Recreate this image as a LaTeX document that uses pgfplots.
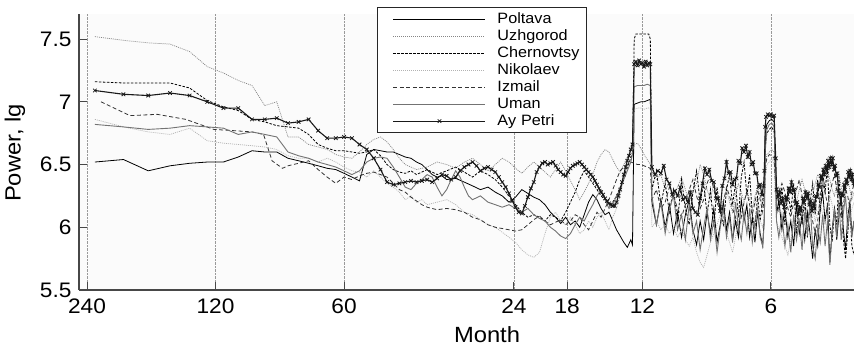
\documentclass[border=0pt]{standalone}
\usepackage{fontspec}
\setmainfont{Liberation Sans}[FakeStretch=1.08]
\usepackage{pgfplots}
\usepackage{pgfplotstable}
\pgfplotsset{compat=1.18}

% Spectral power (lg) against harmonic index k of a 1380-month record;
% the period in months is 1380/k, shown on the x axis.
\pgfplotstableread[row sep=\\]{
k v\\
6 6.52\\ 7 6.54\\ 8 6.45\\ 9 6.49\\ 10 6.51\\ 11 6.52\\ 12 6.52\\ 13 6.56\\ 14 6.61\\ 15 6.60\\
16 6.60\\ 17 6.55\\ 18 6.53\\ 19 6.51\\ 20 6.49\\ 21 6.47\\ 22 6.46\\ 23 6.43\\ 24 6.40\\ 25 6.37\\
26 6.58\\ 27 6.62\\ 28 6.61\\ 29 6.60\\ 30 6.60\\ 31 6.58\\ 32 6.56\\ 33 6.55\\ 34 6.52\\ 35 6.50\\
36 6.46\\ 37 6.42\\ 38 6.40\\ 39 6.41\\ 40 6.38\\ 42 6.39\\ 44 6.36\\ 46 6.33\\ 48 6.30\\ 50 6.32\\
52 6.28\\ 54 6.25\\ 56 6.20\\ 58 6.24\\ 60 6.30\\ 62 6.27\\ 64 6.24\\ 66 6.22\\ 68 6.18\\ 70 6.12\\
72 6.08\\ 74 6.03\\ 76 6.08\\ 78 6.02\\ 80 6.05\\ 82 6.00\\ 84 6.10\\ 86 6.20\\ 88 6.26\\ 90 6.22\\
92 6.15\\ 94 6.10\\ 96 6.12\\ 98 6.05\\ 100 5.98\\ 102 5.93\\ 104 5.88\\ 106 5.84\\ 108 5.90\\ 109 5.86\\
110 6.98\\ 112 6.99\\ 114 7.00\\ 116 7.00\\ 118 7.01\\ 120 7.02\\ 121 6.20\\ 124 6.02\\ 127 6.22\\ 130 6.00\\
133 6.18\\ 136 5.95\\ 139 6.12\\ 142 5.92\\ 145 6.10\\ 148 6.22\\ 151 5.98\\ 154 5.86\\ 157 6.05\\ 160 5.90\\
163 6.12\\ 166 5.95\\ 169 6.15\\ 172 5.88\\ 175 6.02\\ 178 6.20\\ 181 5.98\\ 184 6.12\\ 187 5.90\\ 190 6.05\\
193 5.92\\ 196 6.22\\ 199 6.05\\ 202 6.18\\ 205 5.92\\ 208 6.08\\ 211 5.88\\ 214 6.12\\ 217 5.95\\ 220 5.85\\
222 6.10\\ 223 6.75\\ 225 6.82\\ 228 6.85\\ 231 6.86\\ 234 6.84\\ 236 6.40\\ 237 6.10\\ 240 6.22\\ 244 5.98\\
248 6.15\\ 252 5.92\\ 256 6.05\\ 260 5.85\\ 264 6.18\\ 268 5.95\\ 272 6.10\\ 276 5.90\\ 280 6.12\\ 284 5.95\\
288 5.75\\ 292 5.98\\ 296 5.85\\ 300 6.15\\ 304 6.28\\ 308 6.05\\ 312 6.18\\ 316 5.72\\ 320 5.98\\ 324 6.15\\
328 5.90\\ 332 6.10\\ 336 6.25\\ 340 5.98\\ 344 5.82\\ 348 6.08\\ 352 6.20\\ 356 5.95\\ 360 6.05\\
}\poltava

\pgfplotstableread[row sep=\\]{
k v\\
6 7.52\\ 7 7.49\\ 8 7.47\\ 9 7.46\\ 10 7.40\\ 11 7.28\\ 12 7.23\\ 13 7.17\\ 14 7.13\\ 15 6.97\\
16 7.00\\ 17 6.72\\ 18 6.72\\ 19 6.66\\ 20 6.64\\ 21 6.62\\ 22 6.58\\ 23 6.56\\ 24 6.55\\ 25 6.60\\
26 6.66\\ 27 6.70\\ 28 6.72\\ 29 6.68\\ 30 6.62\\ 31 6.55\\ 32 6.50\\ 34 6.46\\ 36 6.48\\ 38 6.52\\
40 6.50\\ 42 6.47\\ 44 6.52\\ 46 6.55\\ 48 6.50\\ 50 6.45\\ 52 6.50\\ 54 6.55\\ 56 6.52\\ 58 6.47\\
60 6.43\\ 62 6.48\\ 64 6.52\\ 66 6.48\\ 68 6.44\\ 70 6.40\\ 72 6.46\\ 74 6.52\\ 76 6.45\\ 78 6.37\\
80 6.30\\ 82 6.22\\ 84 6.28\\ 86 6.35\\ 88 6.42\\ 90 6.52\\ 92 6.58\\ 94 6.62\\ 96 6.60\\ 98 6.54\\
100 6.48\\ 102 6.44\\ 104 6.50\\ 106 6.56\\ 108 6.62\\ 110 6.66\\ 112 6.67\\ 114 6.63\\ 116 6.58\\ 118 6.54\\
120 6.50\\ 121 6.45\\ 124 6.38\\ 127 6.42\\ 130 6.30\\ 133 6.35\\ 136 6.25\\ 139 6.32\\ 142 6.40\\ 145 6.30\\
148 6.20\\ 151 6.28\\ 154 6.35\\ 157 6.50\\ 160 6.42\\ 163 6.30\\ 166 6.22\\ 169 6.35\\ 172 6.28\\ 175 6.15\\
178 6.22\\ 181 6.30\\ 184 6.20\\ 187 6.12\\ 190 6.25\\ 193 6.35\\ 196 6.28\\ 199 6.20\\ 202 6.30\\ 205 6.22\\
208 6.15\\ 211 6.25\\ 214 6.32\\ 217 6.25\\ 220 6.18\\ 222 6.28\\ 223 6.50\\ 225 6.58\\ 228 6.60\\ 231 6.62\\
234 6.60\\ 236 6.35\\ 237 6.28\\ 240 6.32\\ 244 6.25\\ 248 6.18\\ 252 6.25\\ 256 6.35\\ 260 6.28\\ 264 6.20\\
268 6.30\\ 272 6.38\\ 276 6.30\\ 280 6.22\\ 284 6.15\\ 288 6.25\\ 292 6.35\\ 296 6.42\\ 300 6.38\\ 304 6.30\\
308 6.35\\ 312 6.45\\ 316 6.38\\ 320 6.30\\ 324 6.25\\ 328 6.35\\ 332 6.42\\ 336 6.32\\ 340 6.25\\ 344 6.30\\
348 6.38\\ 352 6.30\\ 356 6.22\\ 360 6.28\\
}\uzhgorod

\pgfplotstableread[row sep=\\]{
k v\\
6 7.16\\ 7 7.15\\ 8 7.15\\ 9 7.15\\ 10 7.11\\ 11 7.01\\ 12 6.96\\ 13 6.93\\ 14 6.86\\ 15 6.84\\
16 6.81\\ 17 6.80\\ 18 6.79\\ 19 6.74\\ 20 6.66\\ 21 6.63\\ 22 6.61\\ 23 6.61\\ 24 6.60\\ 25 6.59\\
26 6.60\\ 27 6.62\\ 28 6.57\\ 29 6.50\\ 30 6.46\\ 31 6.44\\ 32 6.43\\ 33 6.45\\ 34 6.42\\ 35 6.44\\
36 6.46\\ 38 6.42\\ 40 6.45\\ 42 6.48\\ 44 6.44\\ 46 6.40\\ 48 6.45\\ 50 6.42\\ 52 6.38\\ 54 6.32\\
56 6.25\\ 58 6.18\\ 60 6.12\\ 62 6.08\\ 64 6.10\\ 66 6.08\\ 68 6.05\\ 70 6.10\\ 72 6.08\\ 74 6.05\\
76 6.12\\ 78 6.20\\ 80 6.28\\ 82 6.38\\ 84 6.45\\ 86 6.40\\ 88 6.35\\ 90 6.30\\ 92 6.25\\ 94 6.22\\
96 6.18\\ 98 6.20\\ 100 6.25\\ 102 6.32\\ 104 6.40\\ 106 6.48\\ 108 6.55\\ 109 6.60\\ 110 7.50\\ 111 7.54\\
113 7.54\\ 115 7.54\\ 117 7.54\\ 119 7.54\\ 120 7.50\\ 121 6.30\\ 124 6.45\\ 127 6.18\\ 130 6.35\\ 133 6.12\\
136 6.30\\ 139 6.05\\ 142 6.38\\ 145 6.15\\ 148 6.02\\ 151 6.28\\ 154 6.45\\ 157 6.20\\ 160 6.35\\ 163 6.10\\
166 6.30\\ 169 6.00\\ 172 6.32\\ 175 6.12\\ 178 6.02\\ 181 6.30\\ 184 6.42\\ 187 6.18\\ 190 6.35\\ 193 6.08\\
196 6.40\\ 199 6.52\\ 202 6.25\\ 205 6.42\\ 208 6.10\\ 211 6.00\\ 214 6.25\\ 217 6.05\\ 220 6.22\\ 222 6.30\\
223 6.65\\ 225 6.75\\ 228 6.78\\ 231 6.80\\ 234 6.76\\ 236 6.45\\ 237 6.35\\ 240 6.15\\ 244 6.32\\ 248 6.02\\
252 6.30\\ 256 6.12\\ 260 6.35\\ 264 5.95\\ 268 6.18\\ 272 6.02\\ 276 6.25\\ 280 5.92\\ 284 6.20\\ 288 6.35\\
292 6.10\\ 296 6.38\\ 300 6.12\\ 304 6.45\\ 308 6.28\\ 312 6.48\\ 316 6.02\\ 320 5.88\\ 324 6.15\\ 328 6.02\\
332 6.40\\ 336 6.15\\ 340 5.90\\ 344 5.75\\ 348 5.95\\ 352 6.15\\ 356 5.85\\ 360 5.78\\
}\chernovtsy

\pgfplotstableread[row sep=\\]{
k v\\
6 6.86\\ 7 6.80\\ 8 6.76\\ 9 6.74\\ 10 6.79\\ 11 6.69\\ 12 6.67\\ 13 6.66\\ 14 6.65\\ 15 6.64\\
16 6.62\\ 17 6.57\\ 18 6.55\\ 19 6.55\\ 20 6.52\\ 21 6.55\\ 22 6.52\\ 23 6.48\\ 24 6.45\\ 25 6.44\\
26 6.40\\ 27 6.45\\ 28 6.40\\ 29 6.35\\ 30 6.32\\ 31 6.28\\ 32 6.22\\ 33 6.25\\ 34 6.20\\ 35 6.22\\
36 6.18\\ 38 6.20\\ 40 6.22\\ 42 6.18\\ 44 6.12\\ 46 6.10\\ 48 6.06\\ 50 6.02\\ 52 6.00\\ 54 5.96\\
56 5.92\\ 58 5.88\\ 60 5.82\\ 62 5.78\\ 64 5.76\\ 66 5.80\\ 68 5.95\\ 70 6.08\\ 72 6.12\\ 74 6.05\\
76 6.02\\ 78 6.08\\ 80 6.02\\ 82 5.95\\ 84 5.98\\ 86 6.05\\ 88 6.00\\ 90 6.08\\ 92 6.12\\ 94 6.05\\
96 5.98\\ 98 6.08\\ 100 6.15\\ 102 6.25\\ 104 6.40\\ 106 6.55\\ 108 6.62\\ 109 6.65\\ 110 6.94\\ 112 6.95\\
114 6.95\\ 116 6.94\\ 118 6.95\\ 120 6.95\\ 121 6.00\\ 124 6.05\\ 127 5.98\\ 130 6.02\\ 133 5.95\\ 136 6.00\\
139 5.92\\ 142 5.98\\ 145 5.90\\ 148 5.85\\ 151 5.92\\ 154 5.80\\ 157 5.72\\ 160 5.68\\ 163 5.78\\ 166 5.88\\
169 5.95\\ 172 6.02\\ 175 6.10\\ 178 6.05\\ 181 5.95\\ 184 5.88\\ 187 5.80\\ 190 5.92\\ 193 6.05\\ 196 6.12\\
199 6.05\\ 202 5.98\\ 205 6.08\\ 208 6.15\\ 211 6.22\\ 214 6.12\\ 217 6.05\\ 220 6.00\\ 222 6.10\\ 223 6.40\\
225 6.50\\ 228 6.52\\ 231 6.55\\ 234 6.50\\ 236 6.20\\ 237 6.05\\ 240 5.98\\ 244 5.92\\ 248 5.85\\ 252 5.78\\
256 5.90\\ 260 6.02\\ 264 6.10\\ 268 6.00\\ 272 5.92\\ 276 6.05\\ 280 6.18\\ 284 6.25\\ 288 6.15\\ 292 6.05\\
296 6.12\\ 300 6.20\\ 304 6.10\\ 308 6.02\\ 312 6.15\\ 316 6.25\\ 320 6.18\\ 324 6.08\\ 328 6.00\\ 332 6.10\\
336 6.22\\ 340 6.30\\ 344 6.20\\ 348 6.12\\ 352 6.05\\ 356 6.15\\ 360 6.20\\
}\nikolaev

\pgfplotstableread[row sep=\\]{
k v\\
6.2 7.00\\ 7.25 6.89\\ 8.4 6.90\\ 9.8 6.86\\ 11.4 6.78\\ 12.7 6.77\\ 14 6.76\\ 14.9 6.74\\ 15.6 6.53\\ 16.5 6.47\\
17 6.49\\ 18 6.51\\ 19 6.53\\ 20 6.46\\ 21 6.40\\ 22 6.35\\ 23 6.40\\ 24 6.38\\ 25 6.41\\ 26 6.43\\
27 6.44\\ 28 6.42\\ 29 6.40\\ 30 6.35\\ 31 6.30\\ 32 6.28\\ 33 6.24\\ 34 6.21\\ 35 6.18\\ 36 6.16\\
38 6.14\\ 40 6.15\\ 42 6.14\\ 44 6.12\\ 46 6.08\\ 48 6.06\\ 50 6.02\\ 52 6.00\\ 54 5.99\\ 56 5.98\\
58 5.97\\ 60 5.98\\ 62 6.02\\ 64 6.06\\ 66 6.09\\ 68 6.05\\ 70 6.02\\ 72 6.04\\ 74 6.06\\ 76 6.02\\
78 6.05\\ 80 6.10\\ 82 6.08\\ 84 6.02\\ 86 5.98\\ 88 6.05\\ 90 6.12\\ 92 6.08\\ 94 6.15\\ 96 6.22\\
98 6.30\\ 100 6.38\\ 102 6.45\\ 104 6.48\\ 106 6.50\\ 108 6.52\\ 110 6.51\\ 112 6.50\\ 114 6.50\\ 116 6.49\\
118 6.48\\ 120 6.47\\ 121 6.22\\ 124 6.30\\ 127 6.15\\ 130 6.20\\ 133 6.32\\ 136 6.25\\ 139 6.15\\ 142 6.08\\
145 6.18\\ 148 6.30\\ 151 6.38\\ 154 6.25\\ 157 6.15\\ 160 6.22\\ 163 6.35\\ 166 6.42\\ 169 6.30\\ 172 6.20\\
175 6.12\\ 178 6.20\\ 181 6.32\\ 184 6.25\\ 187 6.15\\ 190 6.08\\ 193 5.98\\ 196 6.08\\ 199 6.20\\ 202 6.28\\
205 6.18\\ 208 6.10\\ 211 6.20\\ 214 6.30\\ 217 6.22\\ 220 6.12\\ 222 6.25\\ 223 6.48\\ 225 6.55\\ 228 6.58\\
231 6.57\\ 234 6.55\\ 236 6.30\\ 237 6.22\\ 240 6.28\\ 244 6.35\\ 248 6.28\\ 252 6.15\\ 256 6.08\\ 260 6.20\\
264 6.30\\ 268 6.38\\ 272 6.25\\ 276 6.15\\ 280 6.05\\ 284 6.15\\ 288 6.05\\ 292 5.95\\ 296 6.05\\ 300 6.25\\
304 6.35\\ 308 6.28\\ 312 6.18\\ 316 6.28\\ 320 6.35\\ 324 6.42\\ 328 6.30\\ 332 6.15\\ 336 6.08\\ 340 6.18\\
344 6.30\\ 348 6.25\\ 352 6.15\\ 356 6.28\\ 360 6.35\\
}\izmail

\pgfplotstableread[row sep=\\]{
k v\\
6 6.82\\ 7 6.80\\ 8 6.78\\ 9 6.79\\ 10 6.81\\ 11 6.80\\ 12 6.79\\ 13 6.74\\ 14 6.76\\ 15 6.74\\
16 6.72\\ 17 6.60\\ 18 6.57\\ 19 6.55\\ 20 6.52\\ 21 6.50\\ 22 6.48\\ 23 6.45\\ 24 6.42\\ 25 6.45\\
26 6.52\\ 27 6.55\\ 28 6.56\\ 29 6.55\\ 30 6.48\\ 31 6.40\\ 32 6.32\\ 33 6.30\\ 34 6.35\\ 35 6.38\\
36 6.42\\ 37 6.40\\ 38 6.32\\ 39 6.25\\ 40 6.30\\ 41 6.38\\ 42 6.45\\ 43 6.40\\ 44 6.32\\ 45 6.25\\
46 6.22\\ 48 6.25\\ 50 6.20\\ 52 6.18\\ 54 6.16\\ 56 6.18\\ 58 6.15\\ 60 6.12\\ 62 6.15\\ 64 6.10\\
66 6.07\\ 68 6.05\\ 70 6.00\\ 72 5.97\\ 74 5.93\\ 76 5.91\\ 78 5.95\\ 80 6.02\\ 82 6.08\\ 84 6.05\\
86 6.12\\ 88 6.18\\ 90 6.25\\ 92 6.30\\ 94 6.22\\ 96 6.15\\ 98 6.18\\ 100 6.25\\ 102 6.30\\ 104 6.38\\
106 6.45\\ 108 6.52\\ 109 6.58\\ 110 7.12\\ 112 7.13\\ 114 7.13\\ 116 7.13\\ 118 7.14\\ 120 7.13\\ 121 6.25\\
124 6.02\\ 127 6.20\\ 130 5.95\\ 133 6.15\\ 136 6.25\\ 139 5.98\\ 142 6.10\\ 145 5.90\\ 148 6.18\\ 151 5.95\\
154 6.05\\ 157 5.82\\ 160 6.00\\ 163 6.15\\ 166 5.90\\ 169 6.05\\ 172 5.80\\ 175 6.00\\ 178 6.15\\ 181 5.92\\
184 6.08\\ 187 5.88\\ 190 6.20\\ 193 6.00\\ 196 5.90\\ 199 6.12\\ 202 5.95\\ 205 6.15\\ 208 5.88\\ 211 6.05\\
214 6.15\\ 217 5.92\\ 220 5.85\\ 222 6.05\\ 223 6.60\\ 225 6.78\\ 228 6.82\\ 231 6.83\\ 234 6.80\\ 236 6.35\\
237 6.05\\ 240 5.92\\ 244 6.10\\ 248 5.85\\ 252 6.02\\ 256 5.80\\ 260 6.10\\ 264 5.90\\ 268 6.05\\ 272 5.82\\
276 6.12\\ 280 5.95\\ 284 6.20\\ 288 5.85\\ 292 5.75\\ 296 6.00\\ 300 5.88\\ 304 6.10\\ 308 5.85\\ 312 6.05\\
316 5.70\\ 320 5.95\\ 324 6.15\\ 328 5.92\\ 332 6.20\\ 336 5.90\\ 340 6.12\\ 344 6.25\\ 348 5.98\\ 352 6.15\\
356 5.92\\ 360 6.05\\
}\uman

\pgfplotstableread[row sep=\\]{
k v\\
6 7.09\\ 7 7.06\\ 8 7.05\\ 9 7.07\\ 10 7.05\\ 11 7.00\\ 12 6.95\\ 13 6.95\\ 14 6.86\\ 15 6.86\\
16 6.87\\ 17 6.83\\ 18 6.84\\ 19 6.86\\ 20 6.77\\ 21 6.71\\ 22 6.71\\ 23 6.72\\ 24 6.71\\ 25 6.66\\
26 6.62\\ 27 6.55\\ 28 6.46\\ 29 6.36\\ 30 6.34\\ 31 6.35\\ 32 6.36\\ 33 6.37\\ 34 6.36\\ 35 6.37\\
36 6.38\\ 37 6.36\\ 38 6.39\\ 39 6.42\\ 40 6.41\\ 41 6.38\\ 42 6.40\\ 43 6.45\\ 44 6.48\\ 45 6.50\\
46 6.52\\ 47 6.49\\ 48 6.45\\ 49 6.47\\ 50 6.48\\ 51 6.46\\ 52 6.44\\ 53 6.40\\ 54 6.36\\ 55 6.32\\
56 6.27\\ 57 6.21\\ 58 6.16\\ 59 6.12\\ 60 6.11\\ 61 6.17\\ 62 6.24\\ 63 6.31\\ 64 6.36\\ 65 6.44\\
66 6.48\\ 67 6.51\\ 68 6.52\\ 69 6.50\\ 70 6.51\\ 71 6.52\\ 72 6.49\\ 73 6.46\\ 74 6.44\\ 75 6.42\\
76 6.41\\ 77 6.44\\ 78 6.47\\ 79 6.49\\ 80 6.50\\ 81 6.51\\ 82 6.52\\ 83 6.50\\ 84 6.48\\ 85 6.46\\
86 6.44\\ 87 6.42\\ 88 6.40\\ 89 6.37\\ 90 6.34\\ 91 6.31\\ 92 6.28\\ 93 6.26\\ 94 6.23\\ 95 6.21\\
96 6.19\\ 97 6.18\\ 98 6.17\\ 99 6.17\\ 100 6.20\\ 101 6.25\\ 102 6.30\\ 103 6.36\\ 104 6.42\\ 105 6.48\\
106 6.53\\ 107 6.57\\ 108 6.62\\ 109 6.66\\ 110 7.30\\ 111 7.32\\ 112 7.29\\ 113 7.33\\ 114 7.30\\ 115 7.31\\
116 7.28\\ 117 7.32\\ 118 7.29\\ 119 7.31\\ 120 7.30\\ 121 6.48\\ 123 6.42\\ 125 6.45\\ 127 6.43\\ 129 6.49\\
131 6.38\\ 133 6.35\\ 135 6.26\\ 137 6.29\\ 139 6.25\\ 141 6.32\\ 143 6.22\\ 145 6.24\\ 147 6.20\\ 149 6.28\\
151 6.15\\ 153 6.12\\ 155 6.10\\ 157 6.23\\ 159 6.35\\ 161 6.47\\ 163 6.42\\ 165 6.46\\ 167 6.37\\ 169 6.36\\
171 6.23\\ 173 6.23\\ 175 6.13\\ 177 6.33\\ 179 6.39\\ 181 6.52\\ 183 6.43\\ 185 6.44\\ 187 6.34\\ 189 6.38\\
191 6.39\\ 193 6.53\\ 195 6.51\\ 197 6.63\\ 199 6.60\\ 201 6.65\\ 203 6.56\\ 205 6.60\\ 207 6.50\\ 209 6.52\\
211 6.43\\ 213 6.43\\ 215 6.32\\ 217 6.34\\ 219 6.26\\ 221 6.33\\ 222 6.45\\ 223 6.80\\ 224 6.88\\ 226 6.90\\
228 6.89\\ 230 6.90\\ 232 6.88\\ 234 6.89\\ 236 6.55\\ 237 6.30\\ 239 6.24\\ 241 6.28\\ 243 6.19\\ 245 6.23\\
247 6.16\\ 249 6.24\\ 251 6.22\\ 253 6.31\\ 255 6.28\\ 257 6.36\\ 259 6.29\\ 261 6.30\\ 263 6.19\\ 265 6.20\\
267 6.11\\ 269 6.16\\ 271 6.13\\ 273 6.23\\ 275 6.20\\ 277 6.28\\ 279 6.23\\ 281 6.27\\ 283 6.18\\ 285 6.21\\
287 6.13\\ 289 6.19\\ 291 6.15\\ 293 6.25\\ 295 6.24\\ 297 6.34\\ 299 6.32\\ 301 6.41\\ 303 6.38\\ 305 6.46\\
307 6.42\\ 309 6.49\\ 311 6.45\\ 313 6.53\\ 315 6.48\\ 317 6.55\\ 319 6.50\\ 321 6.55\\ 323 6.46\\ 325 6.49\\
327 6.41\\ 329 6.43\\ 331 6.29\\ 333 6.27\\ 335 6.18\\ 337 6.27\\ 339 6.25\\ 341 6.34\\ 343 6.30\\ 345 6.38\\
347 6.35\\ 349 6.44\\ 351 6.40\\ 353 6.45\\ 355 6.38\\ 357 6.42\\ 359 6.35\\ 360 6.38\\
}\aypetri

\begin{document}
\begin{tikzpicture}
\useasboundingbox (-79pt,-62pt) rectangle (775pt,290pt);
\begin{axis}[
  at={(0pt,0pt)}, anchor=south west,
  scale only axis, width=775pt, height=276pt,
  xmode=log, xmin=5.507, xmax=360,
  ymin=5.5, ymax=7.7,
  xtick={5.75,11.5,23,57.5,76.6667,115,230},
  xticklabels={240,120,60,24,18,12,6},
  ytick={5.5,6,6.5,7,7.5},
  yticklabels={5.5,6,6.5,7,7.5},
  minor xtick={}, minor ytick={},
  /pgf/number format/assume math mode=true,
  axis x line*=bottom, axis y line*=left,
  axis line style={-, draw=black!72, line width=1.2pt},
  tick align=inside, major tick length=8pt,
  tick style={draw=black!72, line width=1pt},
  xmajorgrids, grid style={draw=black!40, densely dotted, line width=0.5pt},
  axis background/.style={fill=black!1.5},
  ticklabel style={font=\fontsize{21}{21}\selectfont},
  yticklabel style={xshift=-4pt},
  xticklabel style={yshift=-5pt},
  xlabel={Month}, ylabel={Power, lg},
  label style={font=\fontsize{22}{22}\selectfont},
  xlabel style={at={(axis description cs:0.5265,-0.163)}, anchor=center},
  ylabel style={at={(axis description cs:-0.0826,0.496)}, anchor=center},
  legend style={
    at={(0.3845,1.025)}, anchor=north west,
    draw=black!85, line width=1pt, fill=white,
    font=\fontsize{15}{15}\selectfont,
    inner xsep=3pt, inner ysep=3pt, row sep=0pt,
    nodes={inner sep=2pt, text height=10.5pt, text depth=2.5pt,
           text width=84pt, align=left},
    cells={anchor=west},
  },
  legend image code/.code={%
    \path[draw=none, fill=none] (-13pt,0pt) -- (102pt,0pt);
    \draw[#1, mark repeat=2, mark phase=2]
      plot coordinates {(0pt,0pt) (46pt,0pt) (92pt,0pt)};},
]
\addplot[black, line width=0.8pt] table[x=k, y=v] {\poltava};
\addlegendentry{Poltava}
\addplot[black!48, line width=0.7pt, dash pattern=on 1pt off 1pt] table[x=k, y=v] {\uzhgorod};
\addlegendentry{Uzhgorod}
\addplot[black, line width=0.8pt, dash pattern=on 2.5pt off 1.5pt] table[x=k, y=v] {\chernovtsy};
\addlegendentry{Chernovtsy}
\addplot[black!30, line width=0.7pt, dash pattern=on 1pt off 1pt] table[x=k, y=v] {\nikolaev};
\addlegendentry{Nikolaev}
\addplot[black!80, line width=0.8pt, dash pattern=on 4pt off 2.5pt] table[x=k, y=v] {\izmail};
\addlegendentry{Izmail}
\addplot[black!55, line width=0.9pt] table[x=k, y=v] {\uman};
\addlegendentry{Uman}
\addplot[black!90, line width=1.1pt, mark=x, mark size=2.5pt, mark options={solid, line width=0.8pt}] table[x=k, y=v] {\aypetri};
\addlegendentry{Ay Petri}
\end{axis}
\end{tikzpicture}
\end{document}
